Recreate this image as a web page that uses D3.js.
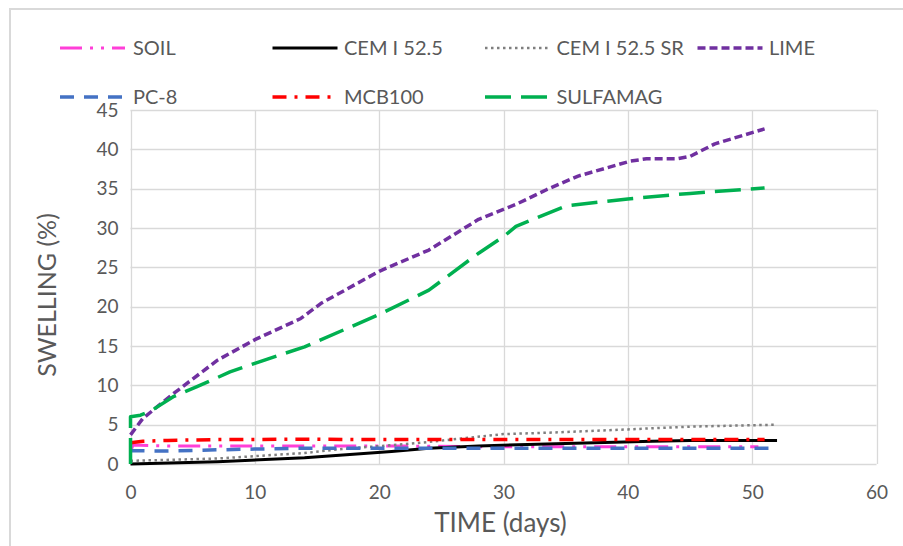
<!DOCTYPE html>
<html>
<head>
<meta charset="utf-8">
<script src="https://cdn.jsdelivr.net/npm/d3@7"></script>
<style>
  html, body { margin: 0; padding: 0; background: #fff; }
  svg { display: block; }
  text { font-family: Lato, "Liberation Sans", sans-serif; fill: #595959; }
</style>
</head>
<body>
<svg id="chart" width="903" height="546"></svg>
<script>
// Swelling (%) measured over time (days) for each binder
const seriesNames = ["SOIL", "CEM I 52.5", "CEM I 52.5 SR", "LIME", "PC-8", "MCB100", "SULFAMAG"];

const soil = [[0,1.6],[0.2,2.4],[3,2.3],[7,2.3],[14,2.3],[21,2.3],[28,2.2],[35,2.2],[42,2.2],[50.5,2.2]];
const cem525 = [[0,0],[7,0.3],[14,0.8],[21,1.6],[24,2.0],[28,2.3],[35,2.6],[42,2.9],[45,3.0],[52,3.0]];
const cem525sr = [[0,0.4],[7,0.7],[14,1.4],[17,1.9],[21,2.4],[24,2.8],[27,3.3],[30,3.8],[34,4.0],[40,4.4],[45,4.75],[52,5.0]];
const lime = [[0,3.7],[1,5.8],[3.5,9],[7,13.2],[10,15.8],[13.7,18.5],[14.3,19.2],[15.3,20.4],[20,24.5],[24,27.2],[28,31.1],[31,33],[33.5,34.9],[36,36.6],[40.2,38.5],[41.5,38.8],[44,38.8],[45,39.1],[47,40.7],[51,42.6]];
const pc8 = [[0,1.7],[3,1.65],[7,1.8],[10,1.9],[14,2.0],[21,2.0],[28,2.0],[35,2.0],[42,2.0],[52,2.0]];
const mcb100 = [[0,2.7],[1,2.9],[3,3.0],[7,3.1],[14,3.15],[21,3.1],[28,3.1],[35,3.1],[42,3.1],[51,3.1]];
const sulfamag = [[0,0],[0,6],[0.8,6.2],[1.6,6.7],[3.5,8.6],[5.3,9.8],[8,11.7],[10,12.8],[14,14.9],[20,19],[24,22.1],[28,26.8],[30,28.9],[31,30.2],[35,32.8],[40,33.7],[45,34.4],[51,35.1]];

const xTicks = [0, 10, 20, 30, 40, 50, 60];
const yTicks = [0, 5, 10, 15, 20, 25, 30, 35, 40, 45];

const seriesData = [soil, cem525, cem525sr, lime, pc8, mcb100, sulfamag];

// Line styles per series
const styles = [
  { color: "#FF3FD8", width: 3, dash: "22,8,3,8,3,8", cap: "butt" },
  { color: "#000000", width: 3, dash: null, cap: "butt" },
  { color: "#7F7F7F", width: 2.5, dash: "2.5,3.5", cap: "butt" },
  { color: "#7030A0", width: 3.5, dash: "8,4", cap: "butt" },
  { color: "#4472C4", width: 3.5, dash: "14,10", cap: "butt" },
  { color: "#FF0000", width: 3.5, dash: "14,8,3,8", cap: "butt" },
  { color: "#00B050", width: 3.5, dash: "26,10", cap: "butt" }
];

const svg = d3.select("#chart");

// Outer chart frame
svg.append("path")
  .attr("d", "M10,546 L10,9 L903,9")
  .attr("fill", "none")
  .attr("stroke", "#d9d9d9")
  .attr("stroke-width", 2);

const plot = { left: 130.5, right: 876.5, top: 110, bottom: 464 };

const x = d3.scaleLinear().domain([0, 60]).range([plot.left, plot.right]);
const y = d3.scaleLinear().domain([0, 45]).range([plot.bottom, plot.top]);

// Gridlines
const grid = svg.append("g");
grid.selectAll("line.h").data(yTicks).join("line")
  .attr("x1", plot.left).attr("x2", plot.right)
  .attr("y1", d => Math.round(y(d)) + 0.5).attr("y2", d => Math.round(y(d)) + 0.5)
  .attr("stroke", "#d9d9d9").attr("stroke-width", 1.3);
grid.selectAll("line.v").data(xTicks).join("line")
  .attr("y1", plot.top).attr("y2", plot.bottom)
  .attr("x1", d => Math.round(x(d)) + 0.5).attr("x2", d => Math.round(x(d)) + 0.5)
  .attr("stroke", "#d9d9d9").attr("stroke-width", 1.3);

// Axes (labels only; lines come from the grid)
const xAxis = svg.append("g")
  .attr("transform", `translate(0,${plot.bottom})`)
  .call(d3.axisBottom(x).tickValues(xTicks).tickSize(0).tickPadding(22));
const yAxis = svg.append("g")
  .attr("transform", `translate(${plot.left},0)`)
  .call(d3.axisLeft(y).tickValues(yTicks).tickSize(0).tickPadding(12));
[xAxis, yAxis].forEach(a => {
  a.select(".domain").remove();
  a.selectAll("text")
    .attr("fill", "#595959")
    .style("font-family", "Lato, 'Liberation Sans', sans-serif")
    .style("font-size", "19px");
});

// Axis titles
svg.append("text")
  .attr("x", (plot.left + plot.right) / 2 - 3)
  .attr("y", 532)
  .attr("text-anchor", "middle")
  .style("font-size", "26px")
  .text("TIME (days)");
svg.append("text")
  .attr("transform", `translate(56,${(plot.top + plot.bottom) / 2 + 8}) rotate(-90)`)
  .attr("text-anchor", "middle")
  .style("font-size", "25px")
  .text("SWELLING (%)");

// Series lines
const line = d3.line().x(d => x(d[0])).y(d => y(d[1]));
const linesG = svg.append("g");
seriesData.forEach((data, i) => {
  const s = styles[i];
  linesG.append("path")
    .datum(data)
    .attr("d", line)
    .attr("fill", "none")
    .attr("stroke", s.color)
    .attr("stroke-width", s.width)
    .attr("stroke-linecap", s.cap)
    .attr("stroke-linejoin", "round")
    .attr("stroke-dasharray", s.dash);
});

// Legend: two rows of four columns
const legend = svg.append("g");
seriesNames.forEach((name, i) => {
  const s = styles[i];
  const col = i % 4, row = Math.floor(i / 4);
  const lx = 60 + col * 212.5, ly = 48 + row * 49;
  legend.append("line")
    .attr("x1", lx).attr("x2", lx + 65)
    .attr("y1", ly).attr("y2", ly)
    .attr("stroke", s.color)
    .attr("stroke-width", s.width)
    .attr("stroke-linecap", s.cap)
    .attr("stroke-dasharray", s.dash);
  legend.append("text")
    .attr("x", lx + (col === 0 ? 73 : 71.5))
    .attr("y", ly)
    .attr("dy", "0.35em")
    .style("font-size", "20px")
    .text(name);
});
</script>
</body>
</html>
